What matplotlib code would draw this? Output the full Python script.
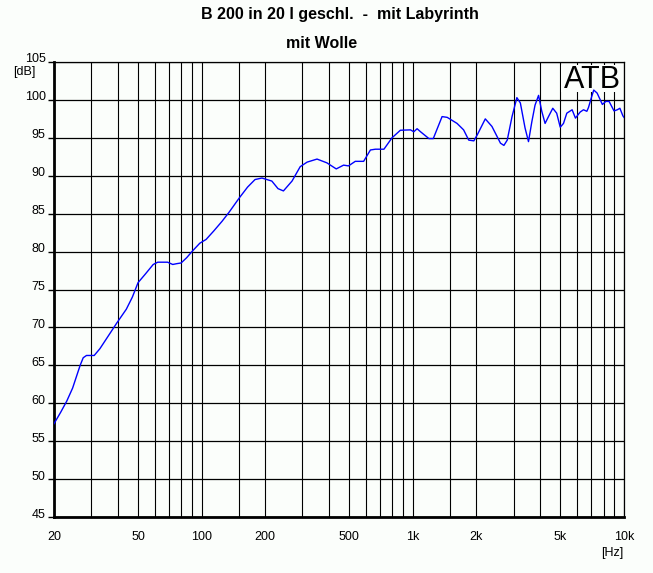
import matplotlib
matplotlib.use("Agg")
import matplotlib.pyplot as plt
import matplotlib.transforms as mtransforms
from matplotlib.patches import Rectangle

plt.rcParams['font.family'] = ['Liberation Sans', 'DejaVu Sans']

freq = [20, 21.5, 23, 24.5, 26.6, 27.5, 28.5, 31, 33, 36, 39.7, 44, 47, 50, 54, 59, 62, 69, 73, 76,
        80, 85, 90, 98, 105, 114, 125, 135, 151, 165, 179, 193, 215, 230, 244, 268, 293, 316, 352, 392,
        434, 470, 496, 534, 585, 630, 665, 730, 797, 873, 975, 1011, 1048, 1088, 1192, 1250, 1376, 1455,
        1620, 1740, 1840, 1945, 2020, 2204, 2370, 2600, 2700, 2800, 2950, 3110, 3230, 3400, 3530, 3660,
        3790, 3940, 4080, 4230, 4390, 4600, 4800, 4990, 5170, 5360, 5680, 5890, 6200, 6430, 6670, 6790,
        6990, 7190, 7460, 7900, 8200, 8500, 8970, 9290, 9560, 9880, 10000]
spl = [57.3, 58.8, 60.3, 62.0, 65.0, 66.0, 66.3, 66.3, 67.2, 68.8, 70.6, 72.4, 74.0, 75.9, 77.0, 78.3,
       78.6, 78.6, 78.3, 78.4, 78.5, 79.2, 80.0, 81.1, 81.6, 82.7, 84.0, 85.2, 87.1, 88.5, 89.5, 89.7,
       89.3, 88.3, 88.0, 89.3, 91.2, 91.8, 92.2, 91.7, 90.9, 91.4, 91.3, 91.9, 91.9, 93.4, 93.5, 93.5,
       95.0, 96.0, 96.05, 95.8, 96.2, 95.8, 94.9, 94.9, 97.8, 97.7, 96.9, 96.05, 94.7, 94.6, 95.4, 97.5,
       96.5, 94.3, 94.0, 94.7, 97.8, 100.3, 99.6, 96.3, 94.5, 97.1, 99.3, 100.6, 98.5, 96.9, 97.8, 98.9,
       98.25, 96.4, 96.9, 98.25, 98.7, 97.6, 98.4, 98.7, 98.5, 99.0, 100.2, 101.3, 100.9, 99.4, 99.8,
       99.8, 98.55, 98.7, 98.9, 97.9, 97.7]

x_label_ticks = [20, 50, 100, 200, 500, 1000, 2000, 5000, 10000]
x_label_text = ['20', '50', '100', '200', '500', '1k', '2k', '5k', '10k']
x_grid = [20, 30, 40, 50, 60, 70, 80, 90, 100, 150, 200, 300, 400, 500, 600, 700, 800, 900,
          1000, 1500, 2000, 3000, 4000, 5000, 6000, 7000, 8000, 9000, 10000]
y_ticks = [45, 50, 55, 60, 65, 70, 75, 80, 85, 90, 95, 100, 105]

W, H = 653, 573
bg = '#fbfefb'
fig = plt.figure(figsize=(W / 100, H / 100), dpi=100, facecolor=bg)
ax = fig.add_axes([54 / W, (H - 517) / H, 570 / W, 455 / H], facecolor=bg)

ax.set_xscale('log')
ax.set_xlim(20, 10000)
ax.set_ylim(45, 105)

for xv in x_grid:
    ax.axvline(xv, color='black', lw=0.8, zorder=1)
for yv in y_ticks:
    ax.axhline(yv, color='black', lw=0.9, zorder=1)

# ATB box covering the grid
ax.add_patch(Rectangle((561 / W, (H - 92) / H), (621 - 561) / W, (92 - 65) / H,
                       transform=fig.transFigure, facecolor=bg, edgecolor='none', zorder=1.5,
                       clip_on=False))
ax.text(592 / W, 1 - 80 / H, 'ATB', transform=fig.transFigure, ha='center', va='center',
        fontsize=22, zorder=2)

ax.plot(freq, spl, color='#0000ff', lw=1.0, zorder=3)

ax.set_xticks(x_label_ticks)
ax.set_xticklabels(x_label_text)
ax.set_xticks([], minor=True)
ax.set_yticks(y_ticks)
ax.set_yticklabels([str(v) for v in y_ticks])
ax.tick_params(axis='x', length=0, pad=10, labelsize=9)
ax.tick_params(axis='y', length=4, width=1, direction='out', pad=2, labelsize=9)
offset = mtransforms.ScaledTranslation(0, 4 / 100, fig.dpi_scale_trans)
for lab in ax.get_yticklabels():
    lab.set_transform(lab.get_transform() + offset)

for s in ['left', 'bottom']:
    ax.spines[s].set_linewidth(2.0)
for s in ['top', 'right']:
    ax.spines[s].set_linewidth(0.9)

fig.text(340 / W, 1 - 15 / H, 'B 200 in 20 l geschl.  -  mit Labyrinth', ha='center', va='center',
         fontsize=11.5, fontweight='bold')
fig.text(322 / W, 1 - 44 / H, 'mit Wolle', ha='center', va='center', fontsize=11.5, fontweight='bold')
fig.text(24 / W, 1 - 72 / H, '[dB]', ha='center', va='center', fontsize=9)
fig.text(612 / W, 1 - 553 / H, '[Hz]', ha='center', va='center', fontsize=9)

fig.savefig('out.png', dpi=100, facecolor=bg)
